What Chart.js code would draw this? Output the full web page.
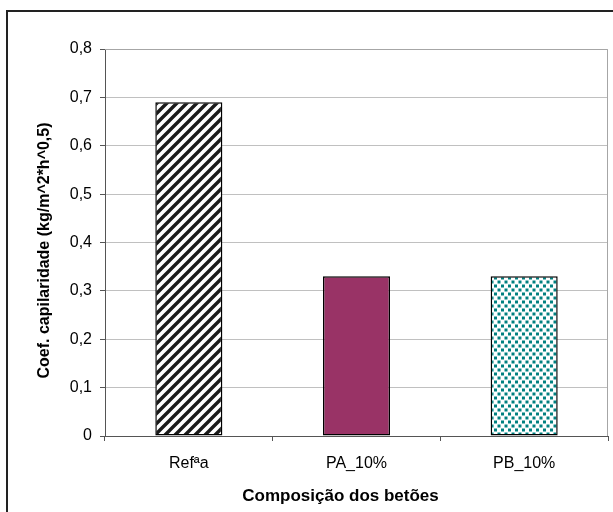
<!DOCTYPE html>
<html>
<head>
<meta charset="utf-8">
<script src="https://cdn.jsdelivr.net/npm/chart.js@4/dist/chart.umd.min.js"></script>
<style>
html,body{margin:0;padding:0;background:#fff;}
canvas{display:block;}
</style>
</head>
<body>
<canvas id="c" width="613" height="512"></canvas>
<script>
const categories = ["Refªa", "PA_10%", "PB_10%"];
const values = [0.69, 0.33, 0.33];
const yTicks = [0, 0.1, 0.2, 0.3, 0.4, 0.5, 0.6, 0.7, 0.8];
const yTitle = "Coef. capilaridade (kg/m^2*h^0,5)";
const xTitle = "Composição dos betões";

function stripePattern() {
  const s = 10;
  const c = document.createElement('canvas');
  c.width = s; c.height = s;
  const g = c.getContext('2d');
  g.fillStyle = '#fff'; g.fillRect(0, 0, s, s);
  g.strokeStyle = '#1a1a1a'; g.lineWidth = 3.4;
  g.beginPath();
  g.moveTo(-s, s); g.lineTo(s, -s);
  g.moveTo(0, s * 2); g.lineTo(s * 2, 0);
  g.moveTo(0, s); g.lineTo(s, 0);
  g.stroke();
  return g.createPattern(c, 'repeat');
}
function dotPattern() {
  const w = 7, h = 8;
  const c = document.createElement('canvas');
  c.width = w; c.height = h;
  const g = c.getContext('2d');
  g.fillStyle = '#fff'; g.fillRect(0, 0, w, h);
  g.fillStyle = '#008080';
  g.fillRect(0.5, 0.5, 3, 3);
  g.fillRect(4, 4.5, 3, 3);
  return g.createPattern(c, 'repeat');
}
const fills = [stripePattern(), '#993366', dotPattern()];

const frame = {
  id: 'frame',
  afterLayout(chart) {
    const xs = chart.scales.x;
    if (!xs._wrapped) {
      const orig = xs.drawTitle.bind(xs);
      xs.drawTitle = function () {
        const ctx = this.ctx; ctx.save(); ctx.translate(-16, 0); orig(); ctx.restore();
      };
      xs._wrapped = true;
    }
    const ys = chart.scales.y;
    if (!ys._wrapped) {
      const origY = ys.drawTitle.bind(ys);
      ys.drawTitle = function () {
        const ctx = this.ctx; ctx.save(); ctx.translate(0, 8); origY(); ctx.restore();
      };
      ys._wrapped = true;
    }
  },
  afterDraw(chart) {
    const ctx = chart.ctx, a = chart.chartArea;
    ctx.save();
    ctx.strokeStyle = '#a6a6a6'; ctx.lineWidth = 1;
    ctx.beginPath();
    ctx.moveTo(a.left, a.top + 0.5); ctx.lineTo(a.right - 0.5, a.top + 0.5); ctx.lineTo(a.right - 0.5, a.bottom);
    ctx.stroke();
    ctx.strokeStyle = '#222'; ctx.lineWidth = 2;
    ctx.beginPath();
    ctx.moveTo(7, 512); ctx.lineTo(7, 11); ctx.lineTo(613, 11);
    ctx.stroke();
    ctx.restore();
  }
};

const FONT = 'Liberation Sans, Arial, sans-serif';

new Chart(document.getElementById('c'), {
  type: 'bar',
  data: {
    labels: categories,
    datasets: [{
      data: values,
      backgroundColor: fills,
      borderColor: '#000',
      borderWidth: 1.5,
      borderSkipped: false,
      barPercentage: 0.4,
      categoryPercentage: 1
    }]
  },
  options: {
    responsive: false,
    animation: false,
    devicePixelRatio: 1,
    layout: { padding: { left: 0, top: 49, right: 5, bottom: 0 } },
    plugins: { legend: { display: false }, tooltip: { enabled: false } },
    scales: {
      x: {
        grid: { display: true, drawOnChartArea: false, drawTicks: true, tickLength: 5, tickColor: '#555', offset: true },
        border: { display: true, color: '#555', width: 1 },
        ticks: { color: '#000', font: { family: FONT, size: 16 }, padding: 13, maxRotation: 0 },
        title: { display: true, text: xTitle, color: '#000', font: { family: FONT, size: 17, weight: 'bold' }, padding: { top: 0, bottom: 5 } },
        afterFit(s) { s.height = 76; }
      },
      y: {
        min: 0, max: 0.8,
        afterBuildTicks(s) { s.ticks = yTicks.map(v => ({ value: v })); },
        grid: { color: '#c0c0c0', lineWidth: 1, drawTicks: true, tickLength: 5, tickColor: '#555' },
        border: { display: true, color: '#555', width: 1 },
        ticks: {
          color: '#000', font: { family: FONT, size: 16 }, padding: 8,
          callback: v => (Math.round(v * 10) / 10).toString().replace('.', ',')
        },
        title: { display: true, text: yTitle, color: '#000', font: { family: FONT, size: 16, weight: 'bold' }, padding: { top: 35, bottom: 0 } },
        afterFit(s) { s.width = 105; }
      }
    }
  },
  plugins: [frame]
});
</script>
</body>
</html>
